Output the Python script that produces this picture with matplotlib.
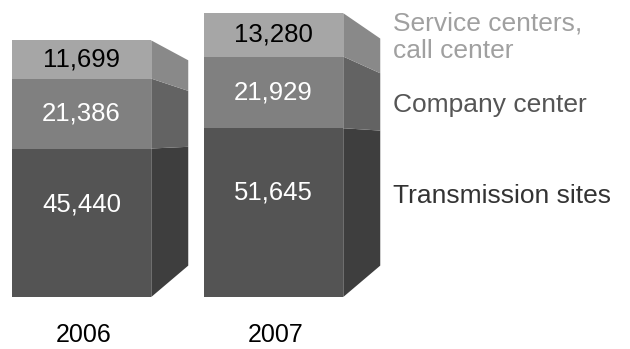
import matplotlib.pyplot as plt
from matplotlib.patches import Polygon

# data
years = ['2006', '2007']
transmission = [45440, 51645]
company = [21386, 21929]
service = [11699, 13280]
legend_labels = ['Transmission sites', 'Company center', 'Service centers,\ncall center']

front_colors = ['#545454', '#808080', '#a6a6a6']
side_colors = ['#3e3e3e', '#636363', '#898989']
value_colors = ['white', 'white', 'black']
legend_colors = ['#333333', '#555555', '#a0a0a0']

plt.rcParams['font.family'] = ['Liberation Sans', 'DejaVu Sans']

fig = plt.figure(figsize=(6.3, 3.49), dpi=100)
ax = fig.add_axes([0, 0, 1, 1])
ax.axis('off')

# one pixel in data units (vertical / horizontal)
py = 306
px = 1 / 192
ax.set_ylim(-52 * py, 297 * py)
ax.set_xlim(-81.5 * px, 548.5 * px)

xs = list(range(len(years)))
width = 139.5 * px
depth = 37 * px
y_vanish = 157 * py   # side face shrinks towards this height
shrink = 0.8

segments = [transmission, company, service]
bottoms = [0] * len(years)
for s, vals in enumerate(segments):
    ax.bar(xs, vals, width=width, bottom=bottoms, color=front_colors[s], linewidth=0)
    for i, v in enumerate(vals):
        b = bottoms[i]
        t = b + v
        xr = xs[i] + width / 2
        side = [(xr, b), (xr, t),
                (xr + depth, y_vanish + (t - y_vanish) * shrink),
                (xr + depth, y_vanish + (b - y_vanish) * shrink)]
        ax.add_patch(Polygon(side, closed=True, facecolor=side_colors[s], linewidth=0))
        frac = 0.62 if s == 0 else 0.5
        ax.text(xs[i], b + v * frac, f'{v:,}', color=value_colors[s],
                fontsize=18.5, ha='center', va='center')
    bottoms = [b + v for b, v in zip(bottoms, vals)]

for i, yr in enumerate(years):
    ax.text(xs[i] + 2 * px, -38 * py, yr, fontsize=18, ha='center', va='center', color='black')

# legend texts on the right
lx = 393 / 630
fig.text(lx, 1 - 203 / 349, legend_labels[0], fontsize=19, color=legend_colors[0], va='baseline')
fig.text(lx, 1 - 112 / 349, legend_labels[1], fontsize=19, color=legend_colors[1], va='baseline')
for j, line in enumerate(legend_labels[2].split('\n')):
    fig.text(lx, 1 - (30 + 28 * j) / 349, line, fontsize=19, color=legend_colors[2], va='baseline')

fig.savefig('out.png', dpi=100)
